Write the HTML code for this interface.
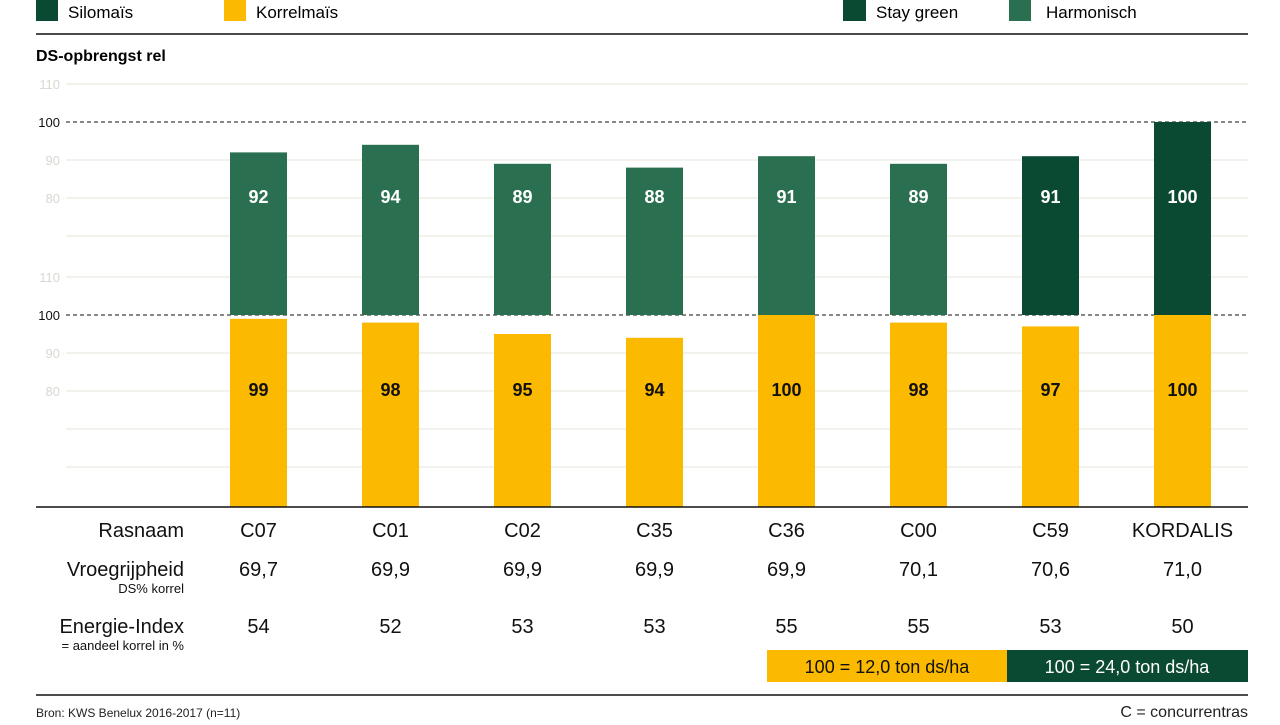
<!DOCTYPE html>
<html><head><meta charset="utf-8"><style>
body{margin:0;background:#fff;font-family:"Liberation Sans",sans-serif;}
svg text{font-family:"Liberation Sans",sans-serif;}
</style></head><body>
<svg width="1280" height="720" xmlns="http://www.w3.org/2000/svg">
<g>
<rect x="36" y="0" width="22" height="21" fill="#0b4a32"/><text x="68" y="18" font-size="17">Silomaïs</text>
<rect x="224" y="0" width="22" height="21" fill="#fbb900"/><text x="256" y="18" font-size="17">Korrelmaïs</text>
<rect x="843" y="0" width="23" height="21" fill="#0b4a32"/><text x="876" y="18" font-size="17">Stay green</text>
<rect x="1009" y="0" width="22" height="21" fill="#2a7050"/><text x="1046" y="18" font-size="17">Harmonisch</text>
</g>
<line x1="36" y1="34" x2="1248" y2="34" stroke="#111" stroke-width="1.5"/>
<text x="36" y="61" font-size="16" font-weight="bold">DS-opbrengst rel</text>
<g id="grid"></g><g id="bars"></g><g id="table"></g>
<line x1="36" y1="507" x2="1248" y2="507" stroke="#111" stroke-width="1.5"/>
<g>
<rect x="767" y="650" width="240" height="32" fill="#fbb900"/><text x="887" y="673" font-size="18" text-anchor="middle" fill="#111">100 = 12,0 ton ds/ha</text>
<rect x="1007" y="650" width="241" height="32" fill="#0b4a32"/><text x="1127" y="673" font-size="18" text-anchor="middle" fill="#fff">100 = 24,0 ton ds/ha</text>
</g>
<line x1="36" y1="695" x2="1248" y2="695" stroke="#111" stroke-width="1.5"/>
<text x="36" y="717" font-size="12" fill="#222">Bron: KWS Benelux 2016-2017 (n=11)</text>
<text x="1248" y="717" font-size="16" text-anchor="end" fill="#222">C = concurrentras</text>
</svg>
<script>
const categories=["C07","C01","C02","C35","C36","C00","C59","KORDALIS"];
const siloValues=[92,94,89,88,91,89,91,100];
const korrelValues=[99,98,95,94,100,98,97,100];
const stayGreen=[false,false,false,false,false,false,true,true];
const vroeg=["69,7","69,9","69,9","69,9","69,9","70,1","70,6","71,0"];
const energie=["54","52","53","53","55","55","53","50"];
const ticks=[110,100,90,80];
const NS="http://www.w3.org/2000/svg";
function mk(p,t,a,txt){const e=document.createElementNS(NS,t);for(const k in a)e.setAttribute(k,a[k]);if(txt!=null)e.textContent=txt;p.appendChild(e);return e;}
const pxU=3.8;
function yTop(v){return 122+(100-v)*pxU;}
function yBot(v){return 315+(100-v)*pxU;}
function xC(i){return 258.5+132*i;}
const g=document.getElementById('grid');
[yTop,yBot].forEach((f,pi)=>{
  ticks.forEach(t=>{const y=f(t);
    const l=mk(g,'line',{x1:66,x2:1248,y1:y,y2:y,stroke:t===100?'#111':'#e4e4d8','stroke-width':1,'stroke-dasharray':t===100?'4,3':''});
    
    const tx=mk(g,'text',{x:60,y:y+5,'font-size':13,'text-anchor':'end',fill:t===100?'#111':'#d8d8d0'},t);
    
  });
  const minor=pi===0?[70]:[70,60];
  minor.forEach(t=>{const y=f(t);const l=mk(g,'line',{x1:66,x2:1248,y1:y,y2:y,stroke:'#e4e4d8','stroke-width':1});});
});
const b=document.getElementById('bars');
categories.forEach((c,i)=>{
  const x=xC(i)-28.5;
  const top=yTop(siloValues[i]);
  const r1=mk(b,'rect',{x:x,y:top,width:57,height:315-top,fill:stayGreen[i]?'#0b4a32':'#2a7050'});
  
  const t1=mk(b,'text',{x:xC(i),y:203,'font-size':18,'font-weight':'bold','text-anchor':'middle',fill:'#fff'},siloValues[i]);
  
  const t2top=yBot(korrelValues[i]);
  const r2=mk(b,'rect',{x:x,y:t2top,width:57,height:507-t2top,fill:'#fbb900'});
  
  const t2=mk(b,'text',{x:xC(i),y:396,'font-size':18,'font-weight':'bold','text-anchor':'middle',fill:'#111'},korrelValues[i]);
  
});
const tb=document.getElementById('table');
[["Rasnaam",537],["Vroegrijpheid",576],["Energie-Index",633]].forEach(r=>{const t=mk(tb,'text',{x:184,y:r[1],'font-size':20,'text-anchor':'end',fill:'#111'},r[0]);});
[["DS% korrel",593],["= aandeel korrel in %",650]].forEach(r=>{const t=mk(tb,'text',{x:184,y:r[1],'font-size':13,'text-anchor':'end',fill:'#111'},r[0]);});
categories.forEach((c,i)=>{
  [[c,537],[vroeg[i],576],[energie[i],633]].forEach(r=>{const t=mk(tb,'text',{x:xC(i),y:r[1],'font-size':20,'text-anchor':'middle',fill:'#111'},r[0]);});
});
</script>
</body></html>
